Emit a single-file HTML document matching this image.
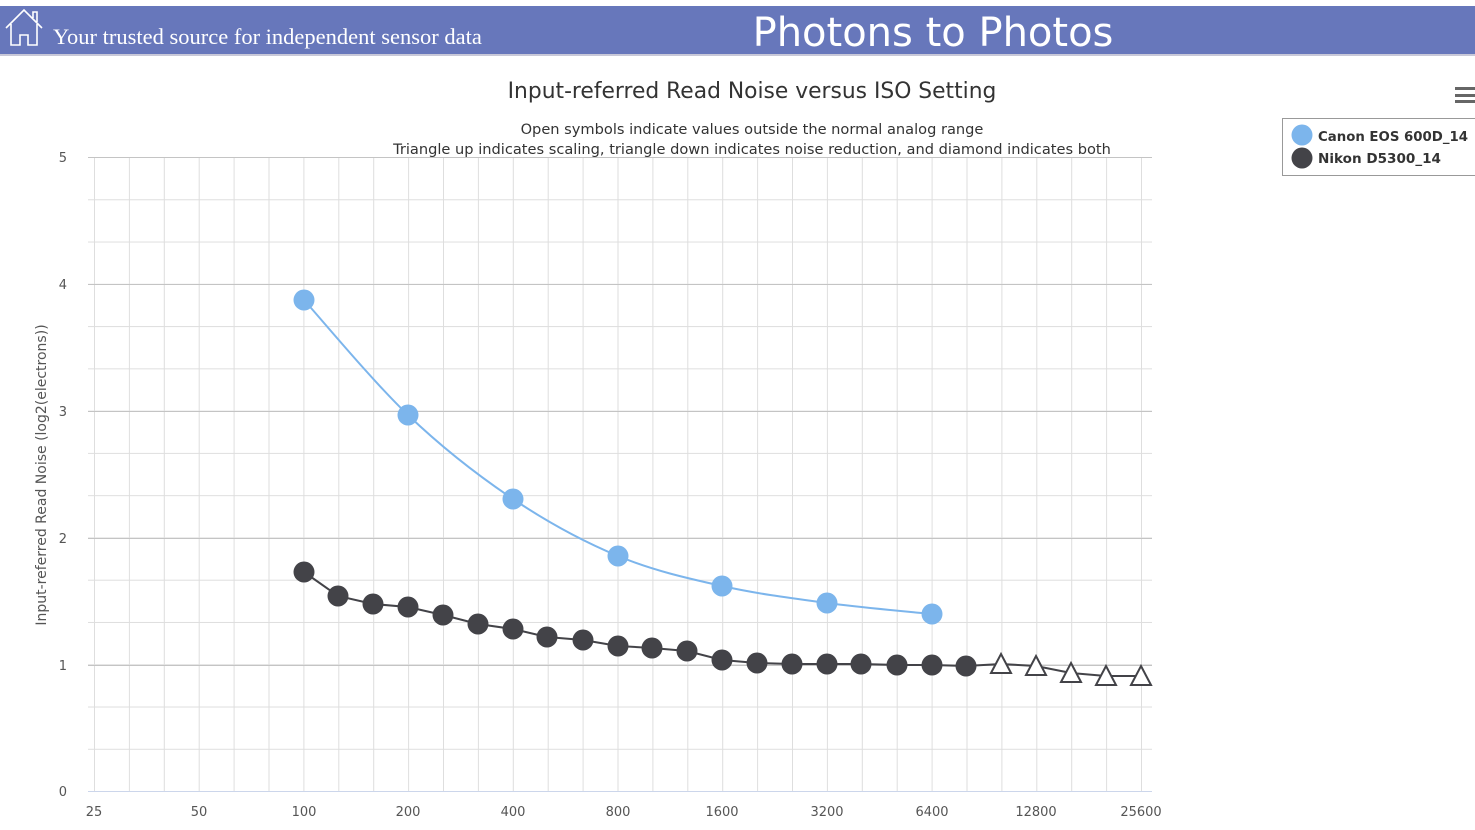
<!DOCTYPE html>
<html><head><meta charset="utf-8"><style>
html,body{margin:0;padding:0;background:#fff;width:1475px;height:830px;overflow:hidden}
</style></head><body>
<svg width="1475" height="830" viewBox="0 0 1475 830" xmlns="http://www.w3.org/2000/svg" style="display:block">
<defs>
<pattern id="g" patternUnits="userSpaceOnUse" x="94" y="157" width="34.9" height="42.27">
<path d="M0.5 0V42.27M0 0.5H34.9" stroke="#dedede" stroke-width="1" fill="none"/>
</pattern>
</defs>
<rect x="0" y="6" width="1475" height="48" fill="#6777bb"/>
<rect x="0" y="54" width="1475" height="2" fill="#c8c8d8"/>
<g stroke="#fff" stroke-width="1.6" fill="none">
<path d="M6 28L24 10L42 28M11 24V45H20V35H28V45H37V24M33 18V12H37V22"/>
</g>
<text x="53" y="44" font-family="Liberation Serif, serif" font-size="22.5" fill="#fff">Your trusted source for independent sensor data</text>
<text x="933" y="46" text-anchor="middle" font-family="DejaVu Sans, sans-serif" font-size="40" fill="#fff">Photons to Photos</text>

<text x="752" y="98" text-anchor="middle" font-family="DejaVu Sans, sans-serif" font-size="21.8" fill="#333">Input-referred Read Noise versus ISO Setting</text>
<text x="752" y="134" text-anchor="middle" font-family="DejaVu Sans, sans-serif" font-size="14.6" fill="#333">Open symbols indicate values outside the normal analog range</text>
<text x="752" y="154" text-anchor="middle" font-family="DejaVu Sans, sans-serif" font-size="14.6" fill="#333">Triangle up indicates scaling, triangle down indicates noise reduction, and diamond indicates both</text>

<rect x="88" y="157" width="1064" height="634" fill="url(#g)"/>
<g stroke="#c4c4c4" stroke-width="1">
<path d="M88 157.5H1152M88 284.5H1152M88 411.5H1152M88 538.5H1152M88 665.5H1152"/>
</g>
<path d="M88 791.5H1152" stroke="#ccd6eb" stroke-width="1"/>

<g font-family="DejaVu Sans, sans-serif" font-size="13" fill="#555" text-anchor="end">
<text x="67" y="162">5</text><text x="67" y="289">4</text><text x="67" y="416">3</text>
<text x="67" y="543">2</text><text x="67" y="670">1</text><text x="67" y="796">0</text>
</g>
<text transform="translate(46 475) rotate(-90)" text-anchor="middle" font-family="DejaVu Sans, sans-serif" font-size="14" fill="#555">Input-referred Read Noise (log2(electrons))</text>
<g font-family="DejaVu Sans, sans-serif" font-size="13" fill="#555" text-anchor="middle">
<text x="94" y="816">25</text><text x="199" y="816">50</text><text x="304" y="816">100</text>
<text x="408" y="816">200</text><text x="513" y="816">400</text><text x="618" y="816">800</text>
<text x="722" y="816">1600</text><text x="827" y="816">3200</text><text x="932" y="816">6400</text>
<text x="1036" y="816">12800</text><text x="1141" y="816">25600</text>
</g>

<path d="M304 300C321.3 319.2 373.2 381.8 408 415C442.8 448.2 478 475.5 513 499C548 522.5 583.2 541.5 618 556C652.8 570.5 687.2 578.2 722 586C756.8 593.8 792 598.3 827 603C862 607.7 914.5 612.2 932 614" stroke="#7cb5ec" stroke-width="2" fill="none"/>
<g fill="#7cb5ec">
<circle cx="304" cy="300" r="10.5"/><circle cx="408" cy="415" r="10.5"/><circle cx="513" cy="499" r="10.5"/>
<circle cx="618" cy="556" r="10.5"/><circle cx="722" cy="586" r="10.5"/><circle cx="827" cy="603" r="10.5"/>
<circle cx="932" cy="614" r="10.5"/>
</g>

<polyline points="304,572 338,596 373,604 408,607 443,615 478,624 513,629 547,637 583,640 618,646 652,648 687,651 722,660 757,663 792,664 827,664 861,664 897,665 932,665 966,666 1001,664 1036,666 1071,673 1106,676 1141,676" stroke="#434348" stroke-width="2" fill="none"/>
<g fill="#434348">
<circle cx="304" cy="572" r="10.5"/><circle cx="338" cy="596" r="10.5"/><circle cx="373" cy="604" r="10.5"/>
<circle cx="408" cy="607" r="10.5"/><circle cx="443" cy="615" r="10.5"/><circle cx="478" cy="624" r="10.5"/>
<circle cx="513" cy="629" r="10.5"/><circle cx="547" cy="637" r="10.5"/><circle cx="583" cy="640" r="10.5"/>
<circle cx="618" cy="646" r="10.5"/><circle cx="652" cy="648" r="10.5"/><circle cx="687" cy="651" r="10.5"/>
<circle cx="722" cy="660" r="10.5"/><circle cx="757" cy="663" r="10.5"/><circle cx="792" cy="664" r="10.5"/>
<circle cx="827" cy="664" r="10.5"/><circle cx="861" cy="664" r="10.5"/><circle cx="897" cy="665" r="10.5"/>
<circle cx="932" cy="665" r="10.5"/><circle cx="966" cy="666" r="10.5"/>
</g>
<g fill="#fff" stroke="#434348" stroke-width="2">
<path d="M1001 654L1011 673H991Z"/><path d="M1036 656L1046 675H1026Z"/>
<path d="M1071 663L1081 682H1061Z"/><path d="M1106 666L1116 685H1096Z"/>
<path d="M1141 666L1151 685H1131Z"/>
</g>

<g fill="#666"><rect x="1455" y="87" width="20" height="3"/><rect x="1455" y="94" width="20" height="3"/><rect x="1455" y="100" width="20" height="3"/></g>
<rect x="1282.5" y="118.5" width="200" height="57" fill="#fff" stroke="#999" stroke-width="1"/>
<circle cx="1302" cy="135" r="10.5" fill="#7cb5ec"/>
<circle cx="1302" cy="158" r="10.5" fill="#434348"/>
<g font-family="DejaVu Sans, sans-serif" font-size="13.6" font-weight="bold" fill="#333">
<text x="1318" y="141" textLength="150" lengthAdjust="spacingAndGlyphs">Canon EOS 600D_14</text>
<text x="1318" y="163" textLength="123" lengthAdjust="spacingAndGlyphs">Nikon D5300_14</text>
</g>
</svg>
</body></html>
